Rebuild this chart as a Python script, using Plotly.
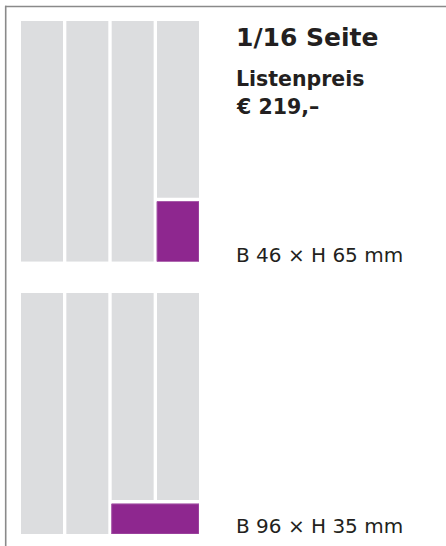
import plotly.graph_objects as go

# ---- data ----
columns = [1, 2, 3, 4]            # page columns of the layout grid
page_height = 1.0                 # normalised page height
ad_top_cols = [4]                 # 1/16 page, variant 1: one column
ad_top_height = 0.25              # quarter page height
ad_bottom_cols = [3, 4]           # 1/16 page, variant 2: two columns
ad_bottom_height = 0.125          # eighth page height

title = "1/16 Seite"
price_label = "Listenpreis"
price = "€ 219,–"
size_top = "B 46 × H 65 mm"
size_bottom = "B 96 × H 35 mm"

# ---- style ----
W, H = 446, 546
GRAY = "#dcdddf"
PURPLE = "#8e278f"
TEXT = "#231f20"
col_w = 0.926
gap = 0.016
FONT = "DejaVu Sans"


def px_x(p):
    return p / W


def px_y(p):
    return 1 - p / H


fig = go.Figure()


def add_diagram(xa, ya, ad_cols, ad_h):
    gx, gb, gy = [], [], []
    for c in columns:
        if c in ad_cols:
            b = ad_h + gap
        else:
            b = 0.0
        gx.append(c)
        gb.append(b)
        gy.append(page_height - b)
    fig.add_trace(go.Bar(x=gx, y=gy, base=gb, width=col_w,
                         marker=dict(color=GRAY, line=dict(width=0)),
                         xaxis=xa, yaxis=ya, hoverinfo="skip", showlegend=False))
    span = len(ad_cols) - 1 + col_w
    fig.add_trace(go.Bar(x=[sum(ad_cols) / len(ad_cols)], y=[ad_h], base=[0],
                         width=span,
                         marker=dict(color=PURPLE, line=dict(width=1, color="#a75aa8")),
                         xaxis=xa, yaxis=ya, hoverinfo="skip", showlegend=False))


add_diagram("x", "y", ad_top_cols, ad_top_height)
add_diagram("x2", "y2", ad_bottom_cols, ad_bottom_height)

xr = [columns[0] - col_w / 2, columns[-1] + col_w / 2]
xdom = [px_x(21), px_x(199)]
axis_off = dict(visible=False, showgrid=False, zeroline=False, fixedrange=True)
fig.update_layout(
    width=W, height=H,
    margin=dict(l=0, r=0, t=0, b=0),
    paper_bgcolor="white", plot_bgcolor="rgba(0,0,0,0)",
    barmode="overlay",
    xaxis=dict(range=xr, domain=xdom, **axis_off),
    yaxis=dict(range=[0, page_height], domain=[px_y(261.7), px_y(21)], **axis_off),
    xaxis2=dict(range=xr, domain=xdom, anchor="y2", **axis_off),
    yaxis2=dict(range=[0, page_height], domain=[px_y(534), px_y(293)], anchor="x2", **axis_off),
    showlegend=False,
)

# frame lines
fig.add_shape(type="line", xref="paper", yref="paper",
              x0=px_x(5), x1=1, y0=px_y(6.5), y1=px_y(6.5),
              line=dict(color="#8a8a8a", width=1.6))
fig.add_shape(type="line", xref="paper", yref="paper",
              x0=px_x(5.7), x1=px_x(5.7), y0=px_y(5.7), y1=0,
              line=dict(color="#8a8a8a", width=1.6))


def label(text, center_y, size, bold):
    fig.add_annotation(
        text=f"<b>{text}</b>" if bold else text,
        xref="paper", yref="paper", x=px_x(235), y=px_y(center_y),
        xanchor="left", yanchor="middle", showarrow=False,
        font=dict(family=FONT, size=size, color=TEXT), borderpad=0,
    )


label(title, 45.7 - 0.346 * 25, 25, True)
label(price_label, 85.7 - 0.346 * 20.5, 20.5, True)
label(price, 114.3 - 0.346 * 20.5, 20.5, True)
label(size_top, 262.3 - 0.346 * 20, 20, False)
label(size_bottom, 533.3 - 0.346 * 20, 20, False)

fig.write_html("out.html", config={"displayModeBar": False},
               post_script="document.body.style.margin='0';document.body.style.overflow='hidden';")
